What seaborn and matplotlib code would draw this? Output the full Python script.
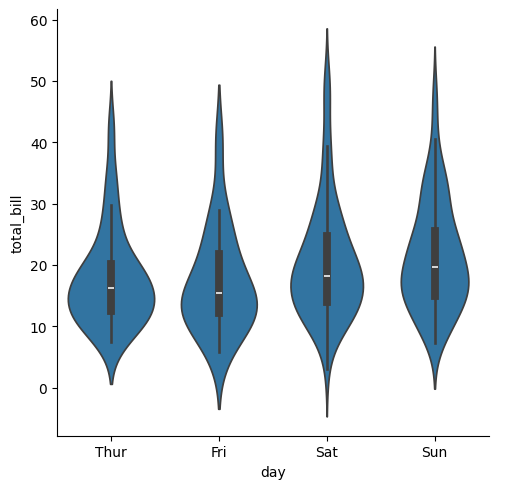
import pandas as pd
import matplotlib
matplotlib.use("Agg")
import matplotlib.pyplot as plt
import seaborn as sns

# Day order on the x axis
days = ["Thur", "Fri", "Sat", "Sun"]

# total_bill values per day
thur_bills = [27.20, 22.76, 17.29, 19.44, 16.66, 10.07, 32.68, 15.98, 34.83, 13.03,
              18.28, 24.71, 21.16, 10.65, 12.43, 24.08, 11.69, 13.42, 14.26, 15.95,
              12.48, 29.80, 8.52, 14.52, 11.38, 22.82, 19.08, 20.27, 11.17, 12.26,
              18.26, 8.51, 10.33, 14.15, 16.00, 13.16, 17.47, 34.30, 41.19, 27.05,
              16.43, 8.35, 18.64, 11.87, 9.78, 7.51, 19.81, 28.44, 15.48, 16.58,
              7.56, 10.34, 43.11, 13.00, 13.51, 18.71, 12.74, 13.00, 16.40, 20.53,
              16.47, 18.78]
fri_bills = [28.97, 22.49, 5.75, 16.32, 22.75, 40.17, 27.28, 12.03, 21.01, 12.46,
             11.35, 15.38, 12.16, 13.42, 8.58, 15.98, 13.42, 16.27, 10.09]
sat_bills = [20.65, 17.92, 20.29, 15.77, 39.42, 19.82, 17.81, 13.37, 12.69, 21.70,
             19.65, 9.55, 18.35, 15.06, 20.69, 17.78, 24.06, 16.31, 16.93, 18.69,
             31.27, 16.04, 38.01, 26.41, 11.24, 48.27, 20.29, 13.81, 11.02, 18.29,
             17.59, 20.08, 16.45, 3.07, 20.23, 15.01, 12.02, 17.07, 26.86, 25.28,
             14.73, 10.51, 17.92, 44.30, 22.42, 20.92, 15.36, 20.49, 25.21, 18.24,
             14.31, 14.00, 7.25, 10.59, 10.63, 50.81, 15.81, 26.59, 38.73, 24.27,
             12.76, 30.06, 25.89, 48.33, 13.27, 28.17, 12.90, 28.15, 11.59, 7.74,
             30.14, 20.45, 13.28, 22.12, 24.01, 15.69, 11.61, 10.77, 15.53, 10.07,
             12.60, 32.83, 35.83, 29.03, 27.18, 22.67, 17.82]
sun_bills = [16.99, 10.34, 21.01, 23.68, 24.59, 25.29, 8.77, 26.88, 15.04, 14.78,
             10.27, 35.26, 15.42, 18.43, 14.83, 21.58, 10.33, 16.29, 16.97, 17.46,
             13.94, 9.68, 30.40, 18.29, 22.23, 32.40, 28.55, 18.04, 12.54, 10.29,
             34.81, 9.94, 25.56, 19.49, 38.07, 23.95, 25.71, 17.31, 29.93, 14.07,
             13.13, 17.26, 24.55, 19.77, 29.85, 48.17, 25.00, 13.39, 16.49, 21.50,
             12.66, 16.21, 13.81, 17.51, 24.52, 20.76, 31.71, 7.25, 31.85, 16.82,
             32.90, 17.89, 14.48, 9.60, 34.63, 34.65, 23.33, 45.35, 23.17, 40.55,
             20.69, 20.90, 30.46, 18.15, 23.10, 15.69]

# Build long-form table
df = pd.DataFrame({
    "day": (["Thur"] * len(thur_bills) + ["Fri"] * len(fri_bills)
            + ["Sat"] * len(sat_bills) + ["Sun"] * len(sun_bills)),
    "total_bill": thur_bills + fri_bills + sat_bills + sun_bills,
})

# Plot
g = sns.catplot(data=df, x="day", y="total_bill", kind="violin", order=days)

# Save the figure
g.savefig("out.png", dpi=100, bbox_inches="tight")
